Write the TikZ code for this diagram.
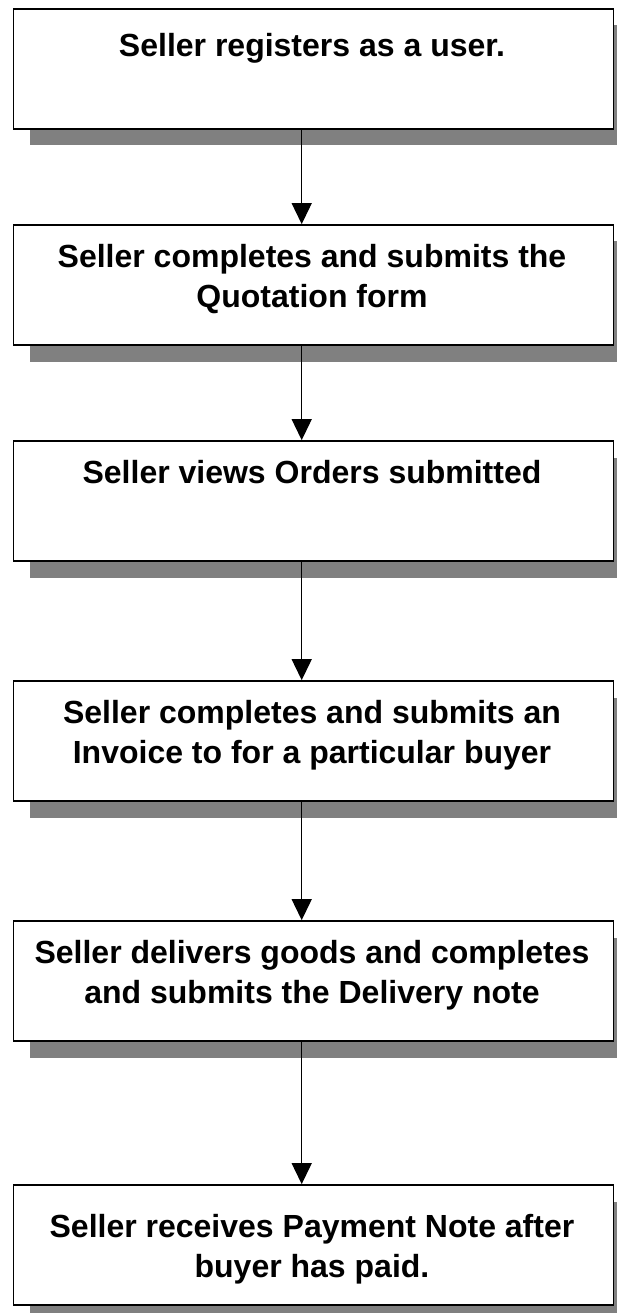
\documentclass[tikz,border=0pt]{standalone}
\usepackage{fontspec}
\setmainfont{Liberation Sans}
\usetikzlibrary{arrows.meta,shadows}
\definecolor{shadowgray}{HTML}{808080}
\begin{document}
\begin{tikzpicture}[x=1pt,y=-1pt,
  stepbox/.style={draw=black, line width=1.7pt, fill=white, rectangle,
    minimum width=600pt, minimum height=120pt, inner sep=0pt,
    drop shadow={shadow xshift=16pt, shadow yshift=-16.5pt,
      fill=shadowgray, opacity=1}},
  steptext/.style={anchor=north, inner sep=0pt, align=center,
    font=\fontsize{32}{40}\selectfont\bfseries},
  flow/.style={draw=black, line width=1.3pt,
    -{Triangle[width=20pt,length=21pt]}}]
\useasboundingbox (0,0) rectangle (616,1313);
\coordinate (ax) at (301.7,0);

% process boxes (centre x, centre y)
\node[stepbox] (b1) at (313.5,69) {};
\node[stepbox] (b2) at (313.5,285) {};
\node[stepbox] (b3) at (313.5,501) {};
\node[stepbox] (b4) at (313.5,741) {};
\node[stepbox] (b5) at (313.5,981) {};
\node[stepbox] (b6) at (313.5,1245) {};

% captions, set near the top of each box
\node[steptext] (t1) at ([xshift=-1.5pt,yshift=-25pt]b1.north) {Seller registers as a user.};
\node[steptext] (t2) at ([xshift=-1.5pt,yshift=-20pt]b2.north) {Seller completes and submits the\\Quotation form};
\node[steptext] (t3) at ([xshift=-1.5pt,yshift=-20pt]b3.north) {Seller views Orders submitted};
\node[steptext] (t4) at ([xshift=-1.5pt,yshift=-20pt]b4.north) {Seller completes and submits an\\Invoice to for a particular buyer};
\node[steptext] (t5) at ([xshift=-1.5pt,yshift=-20pt]b5.north) {Seller delivers goods and completes\\and submits the Delivery note};
\node[steptext] (t6) at ([xshift=-1.5pt,yshift=-30pt]b6.north) {Seller receives Payment Note after\\buyer has paid.};

% connectors
\draw[flow] (b1.south -| ax) -- (b2.north -| ax);
\draw[flow] (b2.south -| ax) -- (b3.north -| ax);
\draw[flow] (b3.south -| ax) -- (b4.north -| ax);
\draw[flow] (b4.south -| ax) -- (b5.north -| ax);
\draw[flow] (b5.south -| ax) -- (b6.north -| ax);
\end{tikzpicture}
\end{document}
